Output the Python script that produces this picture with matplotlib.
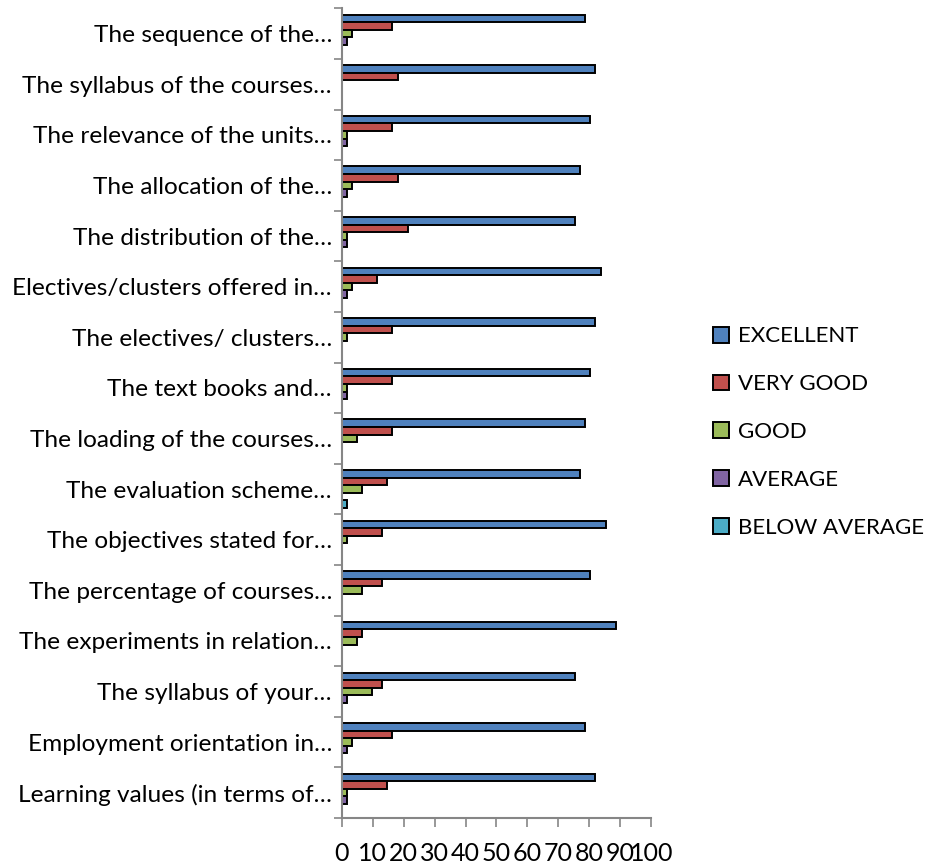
import matplotlib
matplotlib.use("Agg")
import matplotlib.pyplot as plt
import numpy as np

categories = [
    "The sequence of the…",
    "The syllabus of the courses…",
    "The relevance of the units…",
    "The allocation of the…",
    "The distribution of the…",
    "Electives/clusters offered in…",
    "The electives/ clusters…",
    "The text books and…",
    "The loading of the courses…",
    "The evaluation scheme…",
    "The objectives stated for…",
    "The percentage of courses…",
    "The experiments in relation…",
    "The syllabus of your…",
    "Employment orientation in…",
    "Learning values (in terms of…",
]
series_names = ["EXCELLENT", "VERY GOOD", "GOOD", "AVERAGE", "BELOW AVERAGE"]
excellent = [78.69, 81.97, 80.33, 77.05, 75.41, 83.61, 81.97, 80.33, 78.69, 77.05, 85.25, 80.33, 88.52, 75.41, 78.69, 81.97]
very_good = [16.39, 18.03, 16.39, 18.03, 21.31, 11.48, 16.39, 16.39, 16.39, 14.75, 13.11, 13.11, 6.56, 13.11, 16.39, 14.75]
good = [3.28, 0, 1.64, 3.28, 1.64, 3.28, 1.64, 1.64, 4.92, 6.56, 1.64, 6.56, 4.92, 9.84, 3.28, 1.64]
average = [1.64, 0, 1.64, 1.64, 1.64, 1.64, 0, 1.64, 0, 0, 0, 0, 0, 1.64, 1.64, 1.64]
below_average = [0, 0, 0, 0, 0, 0, 0, 0, 0, 1.64, 0, 0, 0, 0, 0, 0]
x_ticks = [0, 10, 20, 30, 40, 50, 60, 70, 80, 90, 100]

colors = ["#4F81BD", "#C0504D", "#9BBB59", "#8064A2", "#4BACC6"]
all_series = [excellent, very_good, good, average, below_average]

plt.rcParams['font.family'] = ['Lato', 'DejaVu Sans']
FS = 17.6
LFS = 16

fig = plt.figure(figsize=(9.29, 8.66), dpi=100)
ax = fig.add_axes([341.7 / 929, (866 - 818) / 866, 309.6 / 929, 809.7 / 866])

y = np.arange(len(categories))
h = 0.15
for k, (vals, col, name) in enumerate(zip(all_series, colors, series_names)):
    ax.barh(y + (k - 2) * h, vals, height=h, color=col, edgecolor="black",
            linewidth=1.4, label=name)

ax.set_ylim(len(categories) - 0.5, -0.5)
ax.set_xlim(0, 100)
ax.set_yticks(y)
ax.set_yticklabels(categories, fontsize=FS)
ax.set_yticks(np.arange(len(categories) + 1) - 0.5, minor=True)
ax.tick_params(axis="y", which="major", length=0, pad=7)
ax.tick_params(axis="y", which="minor", length=6, width=1.2, color="#868686", direction="out")
ax.set_xticks(x_ticks)
ax.set_xticklabels([str(t) for t in x_ticks], fontsize=18)
ax.tick_params(axis="x", length=6.5, width=1.2, color="#868686", pad=11)
for s in ["top", "right"]:
    ax.spines[s].set_visible(False)
for s in ["left", "bottom"]:
    ax.spines[s].set_color("#868686")
    ax.spines[s].set_linewidth(1.5)

handles, labels = ax.get_legend_handles_labels()
leg = fig.legend(handles, labels, loc="center left", bbox_to_anchor=(713 / 929, 1 - 432 / 866),
                 frameon=False, fontsize=LFS, handlelength=0.72, handleheight=0.72,
                 handletextpad=0.4, labelspacing=1.25, borderaxespad=0, borderpad=0)

fig.savefig("out.png", dpi=100)
